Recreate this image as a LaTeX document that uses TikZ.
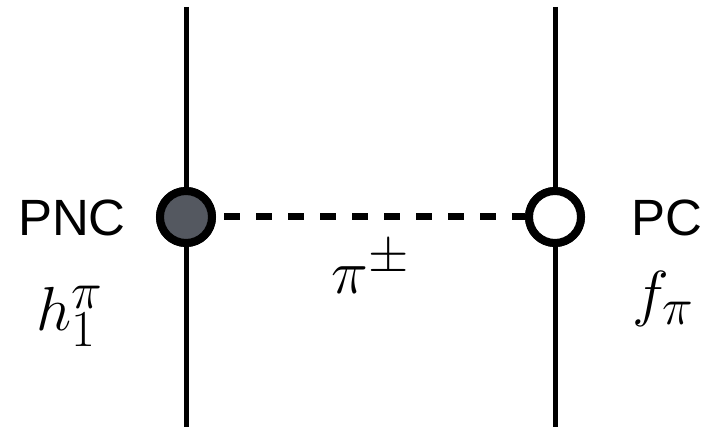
\documentclass[tikz,border=0pt]{standalone}
\usepackage{fontspec}
\setsansfont{Liberation Sans}
\definecolor{vfill}{RGB}{84,88,96}
\begin{document}
\begin{tikzpicture}[x=1pt,y=-1pt,
  wire/.style={line width=5pt},
  vtx/.style={circle,draw=black,line width=8pt,minimum size=52pt,inner sep=0pt},
  prop/.style={line width=7pt,dash pattern=on 16pt off 16pt,dash phase=24pt},
  lab/.style={font=\sffamily\fontsize{51}{60}\selectfont,inner sep=0pt},
  mlab/.style={font=\Huge,scale=2.5,inner sep=0pt}]
\useasboundingbox (0,0) rectangle (712,427);
\coordinate (lt) at (186,7);
\coordinate (lb) at (186,427);
\coordinate (rt) at (555,7);
\coordinate (rb) at (555,427);
\draw[wire] (lt) -- (lb);
\draw[wire] (rt) -- (rb);
\node[vtx,fill=vfill] (pnc) at (186,217) {};
\node[vtx,fill=white] (pc) at (555,217) {};
\draw[prop] (pnc.east) -- (pc.west);
\node[vtx,fill=vfill] at (pnc) {};
\node[vtx,fill=white] at (pc) {};
\node[lab] (tpnc) at (72,218) {PNC};
\node[lab] (tpc) at (667,218) {PC};
\node[mlab,anchor=base west] (h) at (36,331) {$h_1^{\pi}$};
\node[mlab,anchor=base west] (f) at (632,315) {$f_{\pi}$};
\node[mlab,anchor=base west] (pi) at (331,294) {$\pi^{\pm}$};
\end{tikzpicture}
\end{document}
